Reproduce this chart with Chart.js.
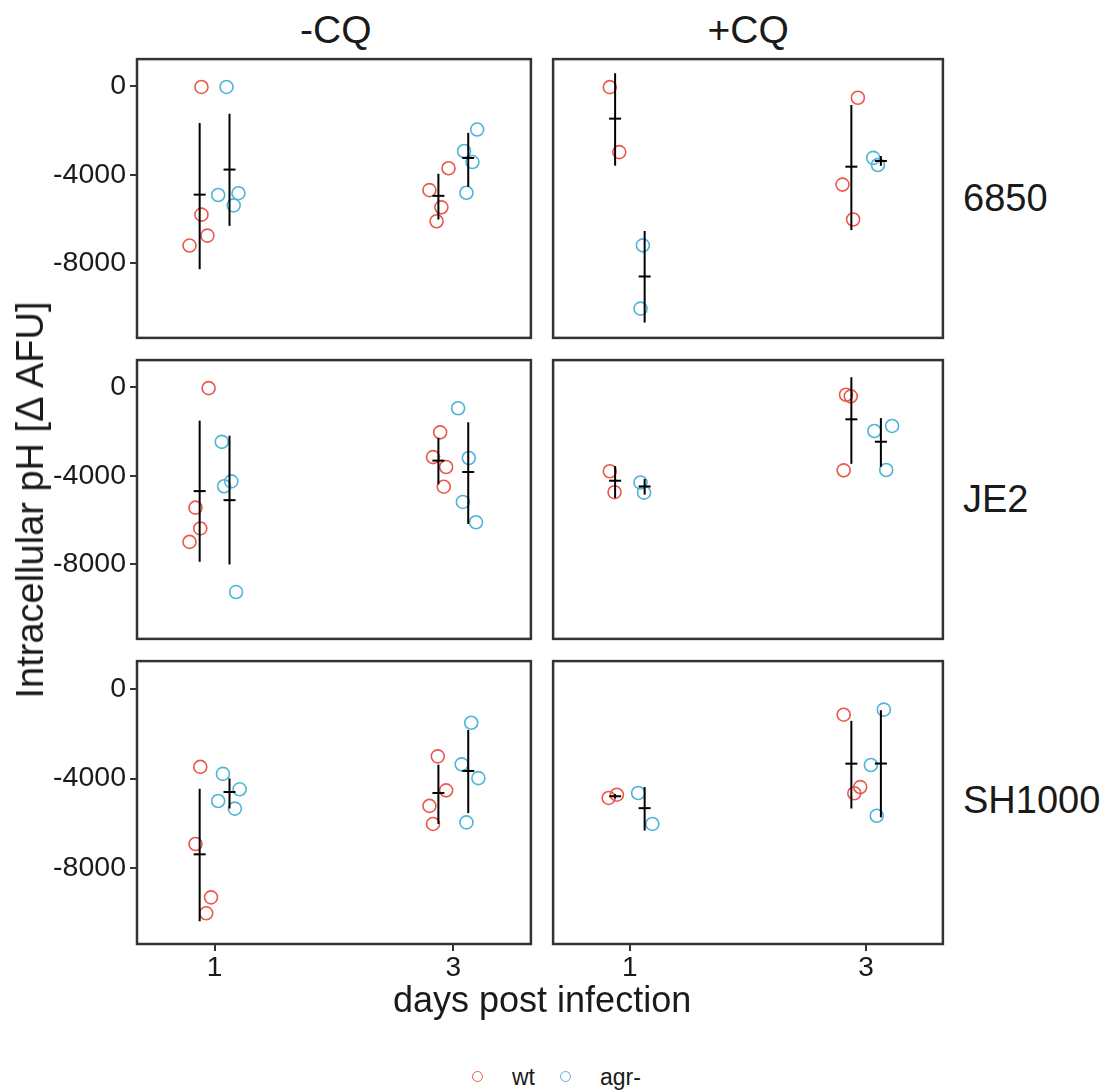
<!DOCTYPE html>
<html>
<head>
<meta charset="utf-8">
<script src="https://cdn.jsdelivr.net/npm/chart.js@4.4.1/dist/chart.umd.min.js"></script>
<style>
  body { margin: 0; width: 1117px; height: 1092px; background: #fff; position: relative; overflow: hidden;
         font-family: Arial, "Liberation Sans", sans-serif; }
  canvas { position: absolute; }
  .lbl { position: absolute; color: #1a1a1a; white-space: nowrap; line-height: 1; }
  .key { position: absolute; width: 9px; height: 9px; border-radius: 50%; border: 1.6px solid; }
</style>
</head>
<body>
<script>
/* ---- data ---- */
const strains = ['6850', 'JE2', 'SH1000'];
const treatments = ['-CQ', '+CQ'];
const dayTicks = [1, 3];
const yTicks = [0, -4000, -8000];
const groups = ['wt', 'agr-'];

// points: [jittered day, delta AFU]
const wt_6850_m  = [[0.89, -20], [0.89, -5800], [0.94, -6750], [0.79, -7200],
                    [2.80, -4690], [2.96, -3700], [2.90, -5470], [2.86, -6100]];
const agr_6850_m = [[1.10, -20], [1.03, -4910], [1.20, -4830], [1.16, -5380],
                    [3.20, -1950], [3.09, -2920], [3.16, -3420], [3.11, -4810]];
const wt_6850_p  = [[0.83, -30], [0.91, -2970],
                    [2.93, -510], [2.80, -4440], [2.89, -6020]];
const agr_6850_p = [[1.11, -7190], [1.09, -10055],
                    [3.06, -3230], [3.10, -3555]];

const wt_JE2_m  = [[0.95, -30], [0.84, -5440], [0.88, -6380], [0.79, -6990],
                   [2.89, -2030], [2.83, -3150], [2.94, -3600], [2.92, -4490]];
const agr_JE2_m = [[1.06, -2460], [1.14, -4250], [1.08, -4470], [1.18, -9260],
                   [3.04, -940], [3.13, -3190], [3.08, -5180], [3.19, -6100]];
const wt_JE2_p  = [[0.83, -3790], [0.87, -4740],
                   [2.83, -330], [2.87, -400], [2.81, -3750]];
const agr_JE2_p = [[1.09, -4300], [1.12, -4760],
                   [3.07, -1970], [3.22, -1740], [3.17, -3735]];

const wt_SH_m  = [[0.88, -3480], [0.84, -6920], [0.97, -9300], [0.93, -10010],
                  [2.87, -3010], [2.94, -4525], [2.80, -5220], [2.83, -6025]];
const agr_SH_m = [[1.07, -3790], [1.21, -4480], [1.03, -5000], [1.17, -5340],
                  [3.15, -1510], [3.07, -3365], [3.21, -3980], [3.11, -5955]];
const wt_SH_p  = [[0.82, -4865], [0.89, -4720],
                  [2.81, -1150], [2.95, -4380], [2.90, -4655]];
const agr_SH_p = [[1.07, -4645], [1.19, -6025],
                  [3.15, -925], [3.04, -3395], [3.09, -5660]];

// summaries: [day, mean, mean - sd, mean + sd]
const sum_wt_6850_m  = [[1, -4895, -8270, -1650], [3, -4950, -6020, -3950]];
const sum_agr_6850_m = [[1, -3760, -6310, -1235], [3, -3235, -4540, -2100]];
const sum_wt_6850_p  = [[1, -1455, -3585, 600], [3, -3630, -6500, -840]];
const sum_agr_6850_p = [[1, -8600, -10685, -6540], [3, -3370, -3590, -3150]];
const sum_wt_JE2_m   = [[1, -4690, -7890, -1500], [3, -3310, -4385, -2280]];
const sum_agr_JE2_m  = [[1, -5100, -8010, -2180], [3, -3825, -6175, -1575]];
const sum_wt_JE2_p   = [[1, -4220, -5000, -3560], [3, -1440, -3455, 465]];
const sum_agr_JE2_p  = [[1, -4480, -4850, -4145], [3, -2455, -3590, -1385]];
const sum_wt_SH_m    = [[1, -7380, -10365, -4455], [3, -4645, -6025, -3380]];
const sum_agr_SH_m   = [[1, -4600, -5335, -3995], [3, -3660, -5540, -1835]];
const sum_wt_SH_p    = [[1, -4790, -4890, -4690], [3, -3335, -5335, -1425]];
const sum_agr_SH_p   = [[1, -5320, -6320, -4380], [3, -3330, -5730, -950]];

const panels = [
  [wt_6850_m, agr_6850_m, sum_wt_6850_m, sum_agr_6850_m],
  [wt_6850_p, agr_6850_p, sum_wt_6850_p, sum_agr_6850_p],
  [wt_JE2_m, agr_JE2_m, sum_wt_JE2_m, sum_agr_JE2_m],
  [wt_JE2_p, agr_JE2_p, sum_wt_JE2_p, sum_agr_JE2_p],
  [wt_SH_m, agr_SH_m, sum_wt_SH_m, sum_agr_SH_m],
  [wt_SH_p, agr_SH_p, sum_wt_SH_p, sum_agr_SH_p]
];

/* ---- layout ---- */
const FONT = 'Arial, "Liberation Sans", sans-serif';
const RED = '#E9584C', BLUE = '#4CB5D8', INK = '#1a1a1a';
const PAD = 4, YAXIS_W = 97, XAXIS_H = 44;
const colLeft = [137, 549], colW = 398;
const rowTop = [55, 356, 657], rowH = 287;
const X_MIN = 0.35, X_MAX = 3.65, Y_MIN = -11380, Y_MAX = 1240;
const DODGE = 0.125;

const panelBorder = {
  id: 'panelBorder',
  afterDatasetsDraw(chart) {
    const { ctx, chartArea: a } = chart;
    ctx.save();
    ctx.lineWidth = 2.5;
    ctx.strokeStyle = '#333';
    ctx.strokeRect(a.left, a.top, a.right - a.left, a.bottom - a.top);
    ctx.restore();
  }
};

const toPts = arr => arr.map(([x, y]) => ({ x, y }));

function pointSet(arr, color) {
  return {
    data: toPts(arr), showLine: false, order: 2,
    pointStyle: 'circle', pointRadius: 6.5, pointBorderWidth: 1.6,
    pointBorderColor: color, pointBackgroundColor: 'rgba(0,0,0,0)'
  };
}

function barSets(sums, shift) {
  return sums.map(([d, m, lo, hi]) => ({
    data: [{ x: d + shift, y: lo }, { x: d + shift, y: hi }],
    showLine: true, borderColor: '#000', borderWidth: 2, pointRadius: 0, order: 1
  }));
}

function meanSet(sums, shift) {
  return {
    data: sums.map(([d, m]) => ({ x: d + shift, y: m })), showLine: false, order: 0,
    pointStyle: 'line', pointRadius: 6, pointBorderWidth: 2, pointBorderColor: '#000'
  };
}

function makePanel(r, c, p) {
  const showY = c === 0, showX = r === 2;
  const cv = document.createElement('canvas');
  cv.width = colW + 2 * PAD + (showY ? YAXIS_W : 0);
  cv.height = rowH + 2 * PAD + (showX ? XAXIS_H : 0);
  cv.style.left = (colLeft[c] - PAD - (showY ? YAXIS_W : 0)) + 'px';
  cv.style.top = (rowTop[r] - PAD) + 'px';
  document.body.appendChild(cv);

  const [wt, agr, sWt, sAgr] = p;
  new Chart(cv, {
    type: 'scatter',
    data: {
      datasets: [
        pointSet(wt, RED), pointSet(agr, BLUE),
        ...barSets(sWt, -DODGE), ...barSets(sAgr, DODGE),
        meanSet(sWt, -DODGE), meanSet(sAgr, DODGE)
      ]
    },
    options: {
      responsive: false, animation: false, events: [],
      layout: { padding: PAD },
      plugins: { legend: { display: false }, tooltip: { enabled: false } },
      scales: {
        x: {
          type: 'linear', min: X_MIN, max: X_MAX, display: showX,
          afterBuildTicks: s => { s.ticks = dayTicks.map(v => ({ value: v })); },
          afterFit: s => { s.height = showX ? XAXIS_H : 0; s.paddingLeft = 0; s.paddingRight = 0; },
          grid: { drawOnChartArea: false, drawTicks: true, tickLength: 7, color: '#333', lineWidth: 2 },
          border: { display: false },
          ticks: { font: { size: 28, family: FONT }, color: INK, padding: 0, maxRotation: 0,
                   callback: v => String(v) }
        },
        y: {
          type: 'linear', min: Y_MIN, max: Y_MAX, display: showY,
          afterBuildTicks: s => { s.ticks = yTicks.map(v => ({ value: v })); },
          afterFit: s => { s.width = showY ? YAXIS_W : 0; s.paddingTop = 0; s.paddingBottom = 0; },
          grid: { drawOnChartArea: false, drawTicks: true, tickLength: 7, color: '#333', lineWidth: 2 },
          border: { display: false },
          ticks: { font: { size: 28.5, family: FONT }, color: INK, padding: 4,
                   callback: v => String(v) }
        }
      }
    },
    plugins: [panelBorder]
  });
}

panels.forEach((p, i) => makePanel(Math.floor(i / 2), i % 2, p));

/* ---- facet strips, axis titles, legend ---- */
function addText(text, x, baseline, size, align, rotate) {
  const d = document.createElement('div');
  d.className = 'lbl';
  d.textContent = text;
  d.style.fontSize = size + 'px';
  document.body.appendChild(d);
  if (rotate) {
    d.style.left = x + 'px';
    d.style.top = baseline + 'px';
    d.style.transform = 'translate(-50%, -50%) rotate(-90deg)';
    return;
  }
  const w = d.offsetWidth;
  d.style.top = (baseline - 0.8465 * size) + 'px';
  d.style.left = (align === 'center' ? x - w / 2 : x) + 'px';
}

treatments.forEach((t, c) => addText(t, colLeft[c] + colW / 2, 43, 39, 'center'));
strains.forEach((s, r) => addText(s, 963, rowTop[r] + rowH / 2 + 13, 38, 'left'));
addText('days post infection', 542, 1012, 36, 'center');
addText('Intracellular pH [\u0394 AFU]', 30, 500, 38, 'center', true);

const keyX = [478, 566], keyTextX = [512, 600];
groups.forEach((g, i) => {
  const k = document.createElement('div');
  k.className = 'key';
  k.style.borderColor = i === 0 ? RED : BLUE;
  k.style.left = (keyX[i] - 6) + 'px';
  k.style.top = (1077 - 6) + 'px';
  document.body.appendChild(k);
  addText(g, keyTextX[i], 1085, 23, 'left');
});
</script>
</body>
</html>
